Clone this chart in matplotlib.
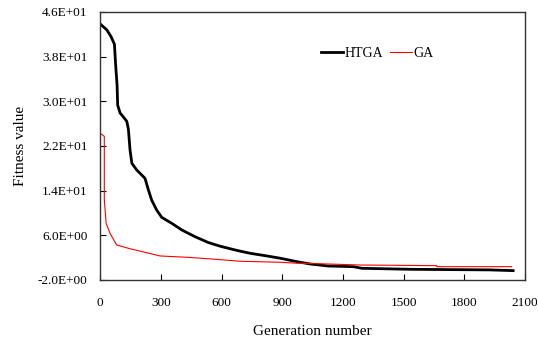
import numpy as np
import matplotlib
matplotlib.use('Agg')
from matplotlib import pyplot as plt
from matplotlib.ticker import FuncFormatter

# 数据
htga_gen = [0, 5, 33, 54, 71, 77, 84, 87, 99, 115, 132, 140, 148, 157, 181, 222,
            239, 255, 280, 305, 354, 404, 469, 535, 593, 675, 741, 824, 889, 972,
            1038, 1127, 1252, 1293, 1532, 1927, 2041]
htga_val = [43.9, 43.7, 42.8, 41.6, 40.2, 36.5, 32.9, 29.3, 27.9, 27.2, 26.4, 25.0,
            21.3, 18.9, 17.7, 16.2, 14.1, 12.3, 10.5, 9.2, 8.15, 6.95, 5.75, 4.7,
            4.05, 3.3, 2.78, 2.3, 1.9, 1.28, 0.86, 0.5, 0.38, 0.09, -0.09, -0.2, -0.33]

ga_gen = [0, 8, 21, 21, 30, 49, 82, 140, 222, 296, 436, 543, 692, 889, 972, 1127,
          1285, 1664, 1664, 2034]
ga_val = [24.1, 24.1, 23.7, 12.3, 8.15, 6.36, 4.27, 3.67, 2.95, 2.3, 2.05, 1.78,
          1.35, 1.17, 1.0, 0.86, 0.68, 0.56, 0.38, 0.38]

x_ticks = [0, 300, 600, 900, 1200, 1500, 1800, 2100]
y_ticks = [-2, 6, 14, 22, 30, 38, 46]

plt.rcParams['font.family'] = ['Liberation Serif', 'DejaVu Serif']

fig = plt.figure(figsize=(5.38, 3.41), dpi=100)
ax = fig.add_axes([0.186, 0.179, 0.79, 0.786])

ax.plot(htga_gen, htga_val, color='black', lw=2.0, label='HTGA')
ax.plot(ga_gen, ga_val, color='red', lw=0.8, label='GA')

ax.set_xlim(0, 2100)
ax.set_ylim(-2, 46)
ax.set_xticks(x_ticks)
ax.set_yticks(y_ticks)
ax.yaxis.set_major_formatter(FuncFormatter(lambda v, p: f"{v:.1E}"))
ax.tick_params(direction='in', length=4, labelsize=9.5)
ax.tick_params(axis='x', pad=12)
ax.tick_params(axis='y', pad=9)
for s in ax.spines.values():
    s.set_color('#333333')
    s.set_linewidth(1.0)

ax.set_xlabel('Generation number', fontsize=11, labelpad=12)
ax.set_ylabel('Fitness value', fontsize=11, labelpad=8)

ax.legend(loc='upper left', bbox_to_anchor=(0.49, 0.915), ncol=2, frameon=False,
          fontsize=10, handlelength=1.6, handletextpad=0.1, columnspacing=0.5)

plt.savefig('out.png', dpi=100)
